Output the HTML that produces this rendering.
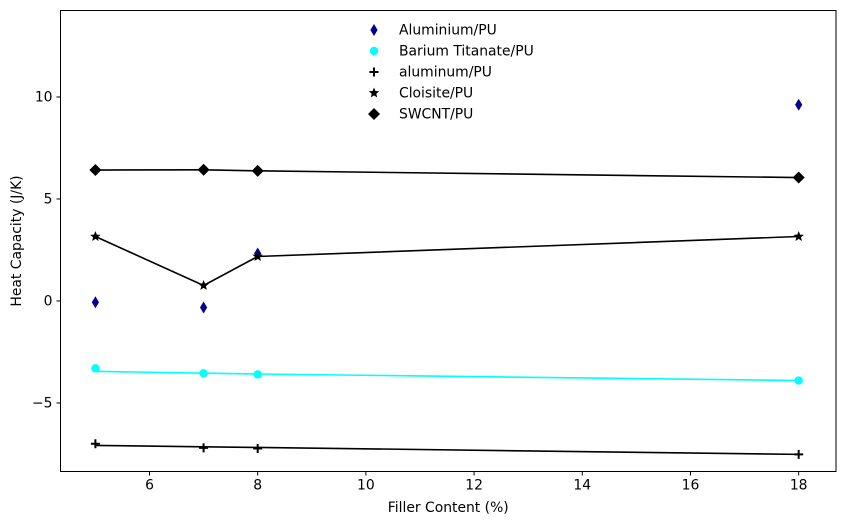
<!DOCTYPE html>
<html><head><meta charset="utf-8"><style>
body{margin:0;background:#fff;font-family:"Liberation Sans","DejaVu Sans",sans-serif;}
svg text{font-family:"DejaVu Sans","Liberation Sans",sans-serif;font-size:13.9px;fill:#000;}
</style></head><body>
<svg id="chart" width="844" height="525" xmlns="http://www.w3.org/2000/svg"></svg>
<script>
const xVals=[5,7,8,18];
const aluminiumPU=[-0.06,-0.32,2.33,9.62];
const bariumPU=[-3.3,-3.55,-3.6,-3.9];
const bariumFit=[-3.45,-3.54,-3.58,-3.9];
const aluminumPU=[-7.0,-7.2,-7.23,-7.52];
const aluminumFit=[-7.08,-7.15,-7.18,-7.52];
const cloisitePU=[3.16,0.76,2.18,3.16];
const swcntPU=[6.42,6.43,6.38,6.05];
const xTicks=[6,8,10,12,14,16,18];
const yTicks=[-5,0,5,10];
const L=60.5,R=836,T=10.5,B=471.5;
const X0=4.355,X1=18.69,Y0=-8.36,Y1=14.24;
const sx=v=>L+(v-X0)/(X1-X0)*(R-L);
const sy=v=>B-(v-Y0)/(Y1-Y0)*(B-T);
const svg=document.getElementById('chart');
const NS='http://www.w3.org/2000/svg';
function mk(t,a,p){const e=document.createElementNS(NS,t);for(const k in a)e.setAttribute(k,a[k]);(p||svg).appendChild(e);return e;}
function line(ys,color,name){const e=mk('polyline',{points:xVals.map((x,i)=>sx(x)+','+sy(ys[i])).join(' '),fill:'none',stroke:color,'stroke-width':1.6});

}
function marker(type,cx,cy,color){let e;
if(type==='thin')e=mk('polygon',{points:`${cx},${cy-6} ${cx+3.6},${cy} ${cx},${cy+6} ${cx-3.6},${cy}`,fill:color});
else if(type==='circle')e=mk('circle',{cx:cx,cy:cy,r:4.2,fill:color});
else if(type==='plus')e=mk('path',{d:`M${cx-4.5},${cy}H${cx+4.5}M${cx},${cy-4.5}V${cy+4.5}`,stroke:color,'stroke-width':2,fill:'none'});
else if(type==='star'){let p=[];for(let i=0;i<10;i++){const r=i%2?2.4:5.5,a=-Math.PI/2+i*Math.PI/5;p.push((cx+r*Math.cos(a))+','+(cy+r*Math.sin(a)));}e=mk('polygon',{points:p.join(' '),fill:color});}
else e=mk('polygon',{points:`${cx},${cy-6} ${cx+6},${cy} ${cx},${cy+6} ${cx-6},${cy}`,fill:color});
return e;}
function scatter(ys,type,color,name){xVals.forEach((x,i)=>{const e=marker(type,sx(x),sy(ys[i]),color);

});}
line(bariumFit,'#00ffff','barium-fit-line');
line(aluminumFit,'#000','aluminum-fit-line');
line(cloisitePU,'#000','cloisite-line');
line(swcntPU,'#000','swcnt-line');
scatter(aluminiumPU,'thin','#00008b','aluminium');
scatter(bariumPU,'circle','#00ffff','barium');
scatter(aluminumPU,'plus','#000','aluminum');
scatter(cloisitePU,'star','#000','cloisite');
scatter(swcntPU,'diamond','#000','swcnt');
const fr=mk('rect',{x:L,y:T,width:R-L,height:B-T,fill:'none',stroke:'#000','stroke-width':1});


xTicks.forEach(t=>{const x=sx(t);mk('line',{x1:x,x2:x,y1:B,y2:B+4,stroke:'#000'});const e=mk('text',{x:x,y:B+18,'text-anchor':'middle'});e.textContent=t;

});
yTicks.forEach(t=>{const y=sy(t);mk('line',{x1:L-4,x2:L,y1:y,y2:y,stroke:'#000'});const e=mk('text',{x:L-8,y:y+4.5,'text-anchor':'end'});e.textContent=t<0?'\u2212'+(-t):t;

});
const xt=mk('text',{x:(L+R)/2,y:512,'text-anchor':'middle'});xt.textContent='Filler Content (%)';


const yt=mk('text',{x:0,y:0,'text-anchor':'middle',transform:`translate(21,${(T+B)/2}) rotate(-90)`});yt.textContent='Heat Capacity (J/K)';


const legendNames=['Aluminium/PU','Barium Titanate/PU','aluminum/PU','Cloisite/PU','SWCNT/PU'];
const legendTypes=['thin','circle','plus','star','diamond'];
const legendColors=['#00008b','#00ffff','#000','#000','#000'];
legendNames.forEach((n,i)=>{const y=30+i*21;const m=marker(legendTypes[i],374,y,legendColors[i]);


const e=mk('text',{x:399,y:y+4.5});e.textContent=n;

});
</script>
</body></html>
